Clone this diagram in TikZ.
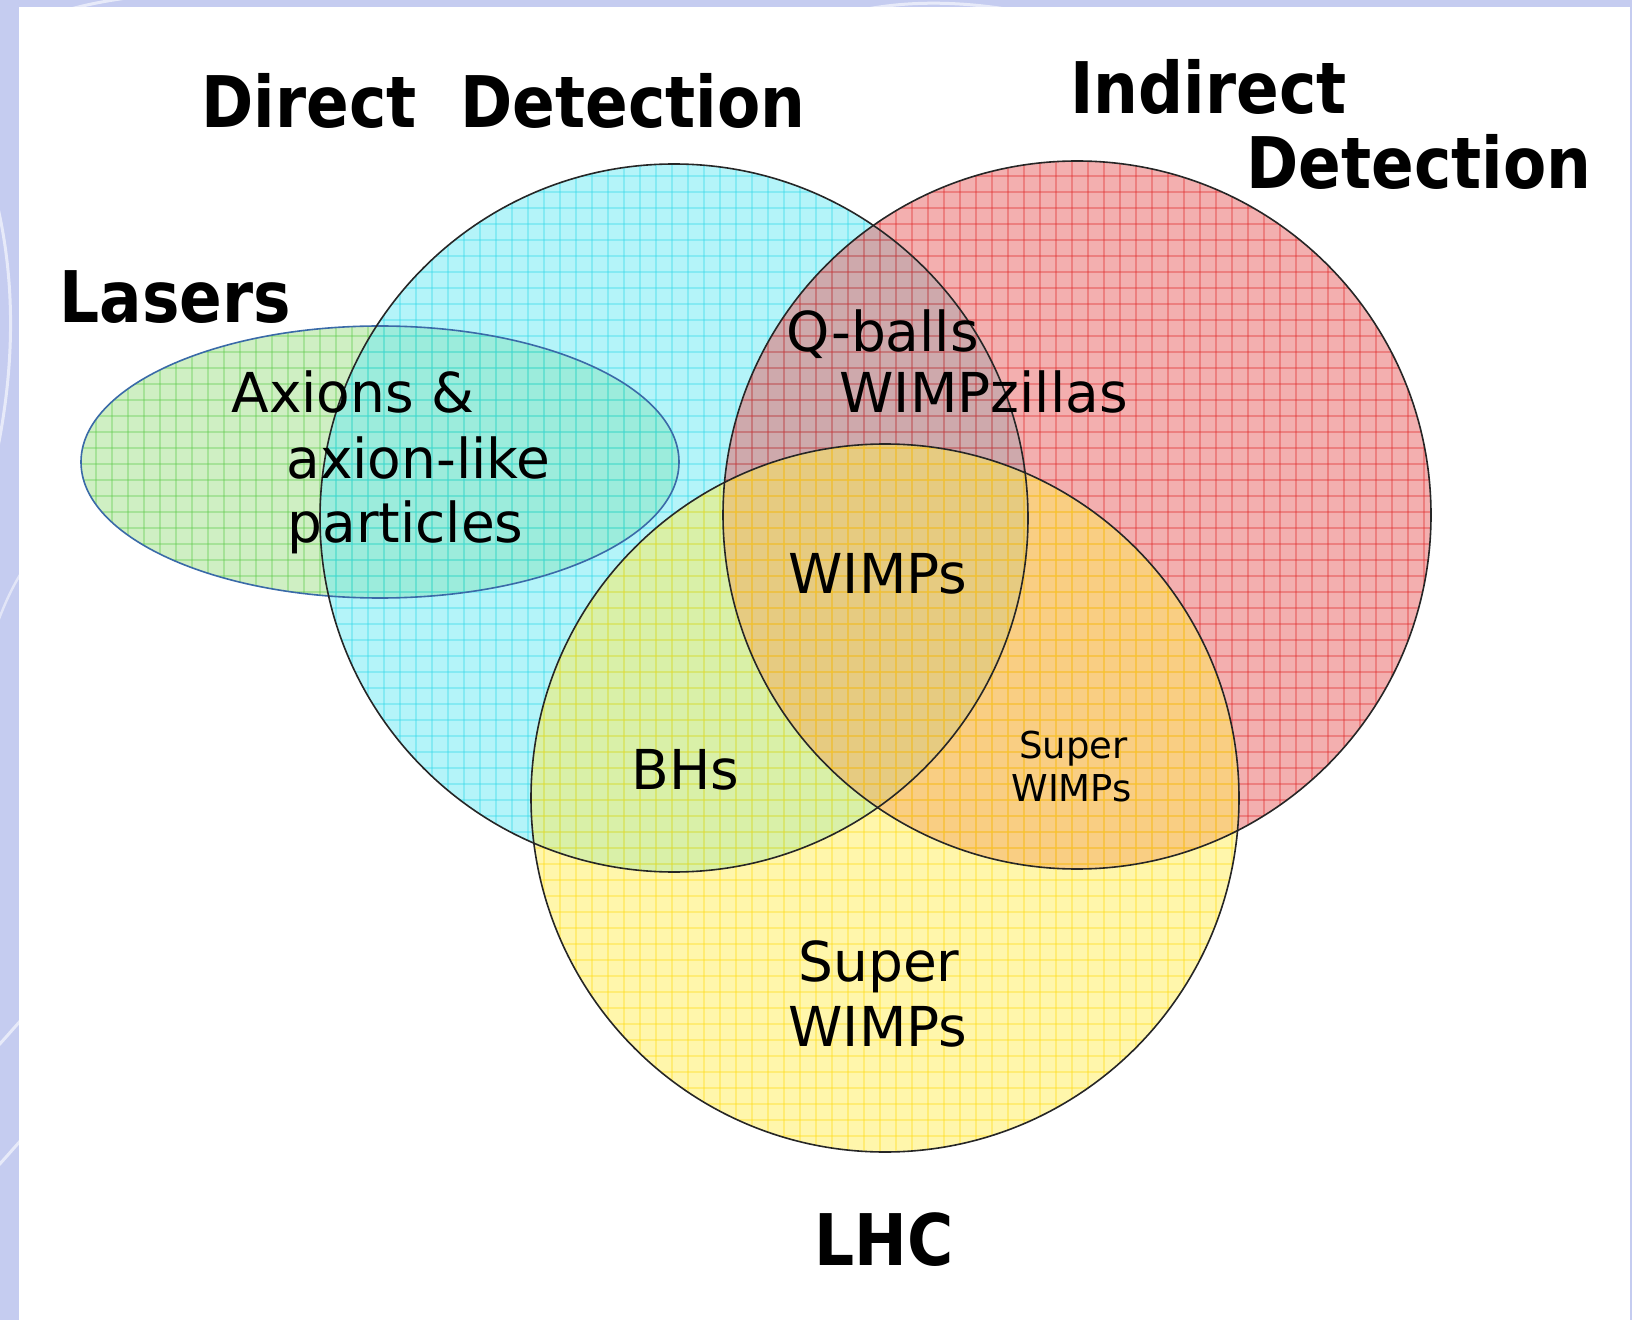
\documentclass[tikz,border=0pt]{standalone}
\usepackage{fontspec}
\newfontfamily\dv{DejaVu Sans}
\definecolor{lav}{HTML}{C5CCF0}
\definecolor{bluebase}{HTML}{6BEBF5}
\definecolor{bluegrid}{HTML}{30D8E8}
\definecolor{redbase}{HTML}{E96060}
\definecolor{redgrid}{HTML}{E02828}
\definecolor{yelbase}{HTML}{FFEE58}
\definecolor{yelgrid}{HTML}{FFDC10}
\definecolor{grnbase}{HTML}{A1E189}
\definecolor{grngrid}{HTML}{5CCB48}
\definecolor{ellline}{HTML}{3A6AA8}
\tikzset{
  title/.style={anchor=base west, inner sep=0pt, font=\dv\bfseries\fontsize{31.5}{38}\selectfont},
  lbl/.style={anchor=base west, inner sep=0pt, font=\dv\fontsize{27.5}{33}\selectfont},
  smalllbl/.style={anchor=base west, inner sep=0pt, font=\dv\fontsize{18.5}{22}\selectfont},
  outline/.style={draw=black!85, line width=0.8pt},
}
\newcommand{\gridfill}[3]{%
  \fill[#2, fill opacity=0.5] #1;
  \begin{scope}
    \clip #1;
    \foreach \i in {0,16,...,1632} \draw[#3, line width=1.0pt, draw opacity=0.35] (\i,0) -- (\i,1320);
    \foreach \j in {0,16,...,1320} \draw[#3, line width=1.0pt, draw opacity=0.35] (0,\j) -- (1632,\j);
  \end{scope}}
\begin{document}
\begin{tikzpicture}[x=0.5pt,y=-0.5pt]
\useasboundingbox (0,0) rectangle (1632,1320);
\fill[lav] (0,0) rectangle (1632,1320);
\begin{scope}
  \clip (0,0) rectangle (19,1320);
  \draw[white, line width=1.5pt, opacity=0.6] (-60,60) .. controls (20,200) and (30,350) .. (-20,520);
  \draw[white, line width=1.5pt, opacity=0.6] (40,1000) .. controls (10,1030) and (-10,1060) .. (-40,1080);
  \draw[white, line width=1.5pt, opacity=0.6] (40,1120) .. controls (10,1150) and (-10,1180) .. (-40,1200);
  \draw[white, line width=1.2pt, opacity=0.5] (30,560) .. controls (0,600) and (-10,650) .. (-30,700);
\end{scope}
\begin{scope}
  \clip (0,0) rectangle (1632,7);
  \draw[white, line width=1.5pt, opacity=0.6] (0,40) .. controls (60,0) and (140,-5) .. (220,-10);
  \draw[white, line width=1.5pt, opacity=0.6] (780,40) .. controls (860,-5) and (960,-5) .. (1060,20);
\end{scope}
\fill[white] (19,7) rectangle (1630,1320);

% Lasers ellipse
\gridfill{(380,462) ellipse[x radius=299, y radius=136]}{grnbase}{grngrid}
% Direct detection circle
\gridfill{(674,518) circle[radius=354]}{bluebase}{bluegrid}
% Indirect detection circle
\gridfill{(1077,515) circle[radius=354]}{redbase}{redgrid}
% LHC circle
\gridfill{(885,798) circle[radius=354]}{yelbase}{yelgrid}

\draw[draw=ellline, line width=0.8pt] (380,462) ellipse[x radius=299, y radius=136];
\draw[outline] (674,518) circle[radius=354];
\draw[outline] (1077,515) circle[radius=354];
\draw[outline] (885,798) circle[radius=354];

% titles
\node[title] (dd) at (201,128) {\scalebox{1}[1.13]{Direct\ \ Detection}};
\node[title] (ind1) at (1070,114) {\scalebox{1}[1.13]{Indirect}};
\node[title] (ind2) at (1246,189) {\scalebox{1}[1.13]{Detection}};
\node[title] (las) at (59,323) {\scalebox{1}[1.13]{Lasers}};
\node[title] (lhc) at (814,1265) {\scalebox{1}[1.13]{LHC}};

% labels
\node[lbl] (ax1) at (231,413) {Axions \&};
\node[lbl] (ax2) at (286,479) {axion-like};
\node[lbl] (ax3) at (287,543) {particles};
\node[lbl] (qb) at (786,352) {Q-balls};
\node[lbl] (wz) at (839,413) {WIMPzillas};
\node[lbl] (wimps) at (788,593) {WIMPs};
\node[lbl] (bhs) at (631,789) {BHs};
\node[lbl] (sup1) at (798,981) {Super};
\node[lbl] (sup2) at (788,1046) {WIMPs};
\node[smalllbl] (ss1) at (1019,758) {Super};
\node[smalllbl] (ss2) at (1011,801) {WIMPs};
\end{tikzpicture}
\end{document}
